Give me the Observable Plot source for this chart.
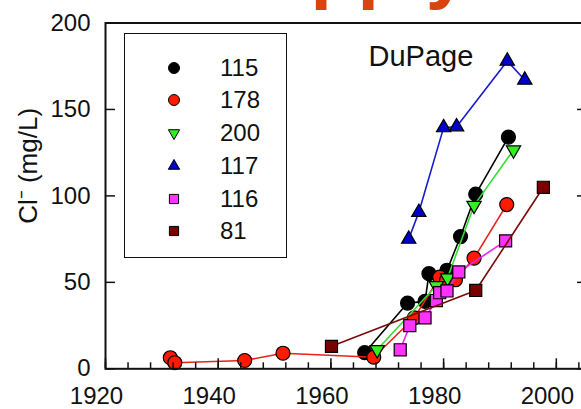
<!DOCTYPE html>
<html><head><meta charset="utf-8">
<script src="https://cdn.jsdelivr.net/npm/d3@7"></script>
<script src="https://cdn.jsdelivr.net/npm/@observablehq/plot@0.6"></script>
<style>
body{margin:0;background:#fff;}
#wrap{position:relative;width:581px;height:409px;overflow:hidden;font-family:"Liberation Sans",Arial,sans-serif;background:#fff;}
#title{position:absolute;left:212px;top:-71px;font:bold 77px "Liberation Sans",Arial,sans-serif;line-height:1;color:#d9440c;white-space:nowrap;z-index:3;}
#legend{position:absolute;left:124px;top:33px;width:161px;height:223px;border:1.5px solid #111;background:#fff;z-index:2;}
.row{position:absolute;left:0;width:160px;height:30px;}
.row svg{position:absolute;left:38px;top:4px;}
.row span{position:absolute;left:95px;top:0;font-size:24px;line-height:30px;color:#111;}
</style></head>
<body>
<div id="wrap"><div id="title">Supply</div><div id="legend"></div></div>
<script>
// ---- data ----
const seriesNames = ["115", "178", "200", "117", "116", "81"];
const years115 = [1966, 1973.6, 1976.7, 1977.4, 1980.6, 1983, 1985.7, 1991.5];
const cl115    = [9.3, 38, 39, 55, 57, 76.5, 101, 134];
const years178 = [1931.5, 1932.3, 1944.7, 1951.5, 1967.6, 1974.8, 1979.3, 1980.5, 1982.1, 1985.4, 1991.2];
const cl178    = [6.4, 3.5, 4.8, 9, 6.7, 29.5, 53, 51, 51.5, 64, 95];
const years200 = [1968.2, 1978.7, 1980.7, 1985.4, 1992.4];
const cl200    = [11, 48, 52.5, 94.5, 126.5];
const years117 = [1973.8, 1975.6, 1980, 1982.3, 1991.3, 1994.4];
const cl117    = [75, 90.5, 139.5, 140, 178, 167];
const years116 = [1972.3, 1974, 1976.7, 1978.7, 1979.3, 1980.6, 1982.7, 1991];
const cl116    = [11, 25, 29.5, 39.5, 44, 45, 56, 74];
const years81  = [1960.1, 1985.7, 1997.7];
const cl81     = [13, 45.3, 105];
const xTickMajor = [1920, 1940, 1960, 1980, 2000];
const yTicks = [0, 50, 100, 150, 200];
const yTitle = "Cl⁻ (mg/L)";
const siteLabel = "DuPage";

const styles = {
  "115": {fill: "#000000", line: "#000000", symbol: "circle", r: 7, rotate: 0, lr: 5.5},
  "178": {fill: "#ff1a00", line: "#e8231a", symbol: "circle", r: 7, rotate: 0, lr: 5.5},
  "200": {fill: "#33ee22", line: "#33dd33", symbol: "triangle", r: 5.3, rotate: 180, lr: 4.2},
  "117": {fill: "#0000cc", line: "#1a1ad0", symbol: "triangle", r: 5.3, rotate: 0, lr: 4.2},
  "116": {fill: "#ff33ff", line: "#ee22ee", symbol: "square", r: 6.8, rotate: 0, lr: 5.2},
  "81":  {fill: "#7a0000", line: "#7a0a0a", symbol: "square", r: 6.8, rotate: 0, lr: 5.2}
};
const seriesData = {
  "115": [years115, cl115], "178": [years178, cl178], "200": [years200, cl200],
  "117": [years117, cl117], "116": [years116, cl116], "81": [years81, cl81]
};

const rows = seriesNames.flatMap(name => seriesData[name][0].map((yr, i) => ({series: name, year: yr, cl: seriesData[name][1][i]})));

const font = "'Liberation Sans', Arial, sans-serif";
const marks = [];
seriesNames.forEach(name => {
  const s = styles[name];
  const d = rows.filter(r => r.series === name);
  marks.push(Plot.line(d, {x: "year", y: "cl", stroke: s.line, strokeWidth: 1.6}));
  marks.push(Plot.dot(d, {x: "year", y: "cl", symbol: s.symbol, r: s.r, fill: s.fill, stroke: "#000", strokeWidth: 1.2, rotate: s.rotate}));
});

const chart = Plot.plot({
  width: 581, height: 409,
  marginLeft: 105, marginTop: 22.5, marginBottom: 40.7, marginRight: -3,
  style: {fontFamily: font, color: "#111", background: "transparent"},
  x: {domain: [1920, 2005]},
  y: {domain: [0, 200]},
  marks: [
    ...marks,
    Plot.frame({stroke: "#111", strokeWidth: 2}),
    Plot.axisY(yTicks, {anchor: "left", tickSize: -10, tickFormat: () => "", strokeWidth: 1.5, label: null}),
    Plot.axisY(yTicks, {anchor: "left", tickSize: 0, tickPadding: 15, fontSize: 24, label: null}),
    Plot.axisY(yTicks, {anchor: "right", tickSize: -8, tickFormat: () => "", strokeWidth: 1.5, label: null}),
    Plot.axisX(d3.range(1920, 2006, 4), {tickSize: -6, tickFormat: () => "", strokeWidth: 1.5, label: null}),
    Plot.axisX(xTickMajor, {tickSize: -10, tickFormat: () => "", strokeWidth: 1.5, label: null}),
    Plot.axisX(xTickMajor, {tickSize: 0, tickPadding: 18, dx: -9, fontSize: 24, tickFormat: d => String(d), label: null}),
    Plot.text([yTitle], {frameAnchor: "left", rotate: -90, dx: -77, dy: -30, fontSize: 26, textAnchor: "middle", lineAnchor: "middle", fill: "#111"}),
    Plot.text([siteLabel], {frameAnchor: "top-left", dx: 263, dy: 42.5, fontSize: 29, textAnchor: "start", lineAnchor: "bottom", fill: "#111"})
  ]
});
const wrap = document.getElementById("wrap");
wrap.insertBefore(chart, wrap.firstChild);
chart.style.position = "absolute"; chart.style.left = "0"; chart.style.top = "0";

// legend
const legend = document.getElementById("legend");
const symMap = {circle: d3.symbolCircle, triangle: d3.symbolTriangle, square: d3.symbolSquare};
seriesNames.forEach((name, i) => {
  const s = styles[name];
  const row = document.createElement("div");
  row.className = "row";
  row.style.top = (18.7 + i * 32.7) + "px";
  const path = d3.symbol(symMap[s.symbol], Math.PI * s.lr * s.lr)();
  row.innerHTML = `<svg width="22" height="22" viewBox="-11 -11 22 22"><path d="${path}" fill="${s.fill}" stroke="#000" stroke-width="1" transform="rotate(${s.rotate})"/></svg><span>${name}</span>`;
  legend.appendChild(row);
});
</script>
</body></html>
